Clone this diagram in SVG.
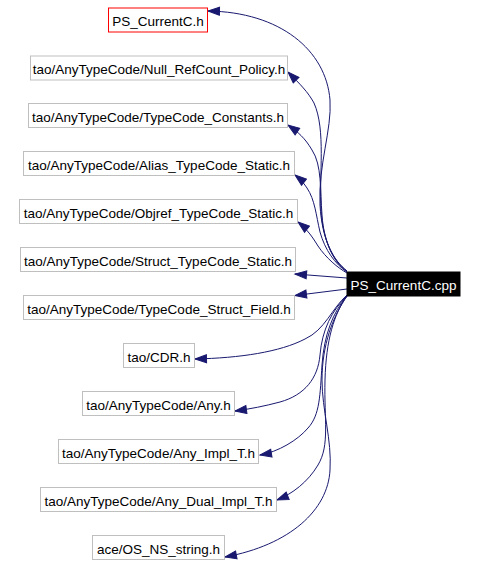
<svg xmlns="http://www.w3.org/2000/svg" width="478" height="566" viewBox="0 0 478 566">
<style>
.n rect{fill:#ffffff;stroke:#bfbfbf;stroke-width:1}
.n text{font-family:"Liberation Sans",Arial,sans-serif;font-size:13.5px;fill:#000000;text-anchor:middle}
#n0 rect{stroke:#ff0000}
#cpp rect{fill:#000000;stroke:#000000}
#cpp text{fill:#ffffff}
.e path{fill:none;stroke:#191970;stroke-width:1;marker-end:url(#arr)}
</style>
<defs>
<marker id="arr" markerUnits="userSpaceOnUse" markerWidth="14" markerHeight="10" refX="12.5" refY="5" orient="auto" viewBox="0 0 14 10">
<path d="M1,1 L12.5,5 L1,9 z" fill="#191970" stroke="#191970" stroke-width="1"/>
</marker>
</defs>
<rect width="478" height="566" fill="#ffffff"/>
<g id="edges" class="e">
<path d="M347,271 C333,260 322,240 320,205 C318,165 332,130 330,100 C326,50 280,12 208,11"/>
<path d="M347,271 C333,261 323,240 321,210 C319,175 326,130 314,103 C308,92 300,84 288,72"/>
<path d="M347,272 C334,262 324,244 322,215 C320,190 322,165 312,150 C305,138 298,132 288,125"/>
<path d="M347,272 C335,264 325,250 320,232 C316,215 315,200 307,188 C303,182 300,179 295,175"/>
<path d="M347,273 C338,268 326,258 318,246 C313,238 308,230 298,222"/>
<path d="M347,278 L295,274"/>
<path d="M347,289 L295,295.5"/>
<path d="M347,295 C332,308 325,330 305,339 C280,352 240,358 195,359"/>
<path d="M347,296 C332,310 322,330 320,355 C318,378 305,395 280,402 C265,406 250,409 235,411"/>
<path d="M347,296 C333,312 324,335 322,365 C320,395 320,415 308,428 C298,440 278,452 260,455"/>
<path d="M347,296 C334,314 326,340 325,380 C324,420 330,445 318,465 C308,482 292,494 277,500"/>
<path d="M347,296 C333,316 322,345 322,380 C322,410 332,440 330,470 C328,510 290,545 225,557"/>
</g>
<g id="n0" class="n"><rect x="108.5" y="8" width="99" height="24"/><text x="158" y="26">PS_CurrentC.h</text></g>
<g id="n1" class="n"><rect x="30.5" y="56" width="257" height="24"/><text x="159" y="74">tao/AnyTypeCode/Null_RefCount_Policy.h</text></g>
<g id="n2" class="n"><rect x="28.5" y="103.5" width="259" height="24"/><text x="158" y="121.5">tao/AnyTypeCode/TypeCode_Constants.h</text></g>
<g id="n3" class="n"><rect x="23.5" y="151.5" width="271" height="24"/><text x="159" y="169.5">tao/AnyTypeCode/Alias_TypeCode_Static.h</text></g>
<g id="n4" class="n"><rect x="19.5" y="199.5" width="278" height="24"/><text x="158.5" y="217.5">tao/AnyTypeCode/Objref_TypeCode_Static.h</text></g>
<g id="n5" class="n"><rect x="20.5" y="247.5" width="275" height="24"/><text x="158" y="265.5">tao/AnyTypeCode/Struct_TypeCode_Static.h</text></g>
<g id="n6" class="n"><rect x="23.5" y="295.5" width="271" height="24"/><text x="159" y="313.5">tao/AnyTypeCode/TypeCode_Struct_Field.h</text></g>
<g id="n7" class="n"><rect x="123.5" y="343.5" width="71" height="24"/><text x="159" y="361.5">tao/CDR.h</text></g>
<g id="n8" class="n"><rect x="82.5" y="391.5" width="152" height="24"/><text x="158.5" y="409.5">tao/AnyTypeCode/Any.h</text></g>
<g id="n9" class="n"><rect x="58.5" y="439.5" width="200" height="24"/><text x="158.5" y="457.5">tao/AnyTypeCode/Any_Impl_T.h</text></g>
<g id="n10" class="n"><rect x="40.5" y="487.5" width="236" height="24"/><text x="158.5" y="505.5">tao/AnyTypeCode/Any_Dual_Impl_T.h</text></g>
<g id="n11" class="n"><rect x="92.5" y="535.5" width="132" height="24"/><text x="158.5" y="553.5">ace/OS_NS_string.h</text></g>
<g id="cpp" class="n"><rect x="347" y="272" width="113" height="24"/><text x="403.5" y="290">PS_CurrentC.cpp</text></g>
</svg>
